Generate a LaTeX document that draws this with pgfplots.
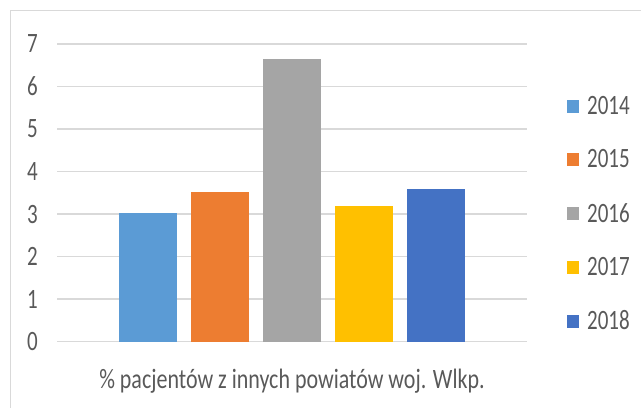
\documentclass[border=0pt]{standalone}
\usepackage{pgfplots}
\pgfplotsset{compat=1.18}
\usepackage{fontspec}
\setmainfont{Carlito}[FakeStretch=0.75]
\newfontfamily\labfont{Carlito}[FakeStretch=0.785]
\definecolor{c14}{HTML}{5B9BD5}
\definecolor{c15}{HTML}{ED7D31}
\definecolor{c16}{HTML}{A5A5A5}
\definecolor{c17}{HTML}{FFC000}
\definecolor{c18}{HTML}{4472C4}
\definecolor{txt}{HTML}{595959}
\definecolor{gridc}{HTML}{D9D9D9}
\begin{document}
\begin{tikzpicture}
\path[use as bounding box] (-57bp,-66.3bp) rectangle (584bp,341.7bp);
\draw[gridc, line width=1.5bp] (-46.5bp,-90bp) -- (-46.5bp,331.2bp) -- (620bp,331.2bp);
\begin{axis}[
  at={(0,0)}, anchor=south west,
  scale only axis, width=470bp, height=297.7bp,
  xmin=-1, xmax=1, ymin=0, ymax=7,
  ytick={0,1,2,3,4,5,6,7},
  xtick={0}, xticklabels={\labfont\% pacjentów z innych powiatów woj. Wlkp.},
  axis line style={draw=none},
  major tick length=0pt,
  ymajorgrids, grid style={gridc, line width=1.5bp},
  ybar=14bp, bar width=58bp,
  font=\fontsize{28bp}{32bp}\selectfont,
  tick label style={text=txt, font=\fontsize{28bp}{32bp}\selectfont},
  /pgf/number format/assume math mode=true,
  yticklabel style={anchor=east, inner sep=0pt, xshift=-19bp},
  xticklabel style={anchor=north, inner sep=0pt, yshift=-27bp},
  legend style={draw=none, fill=none, at={(rel axis cs:1.0851,0.8253)}, anchor=north west,
    inner sep=0pt, text=txt, font=\fontsize{28bp}{32bp}\selectfont,
    nodes={inner sep=0pt}, row sep=33.8bp,
    /tikz/every odd column/.append style={column sep=8bp}},
  legend cell align=left,
  legend image code/.code={\fill[#1] (0bp,-6.5bp) rectangle (12bp,6.5bp);},
]
\addplot[fill=c14, draw=none] coordinates {(0,3.02)};
\addplot[fill=c15, draw=none] coordinates {(0,3.52)};
\addplot[fill=c16, draw=none] coordinates {(0,6.65)};
\addplot[fill=c17, draw=none] coordinates {(0,3.19)};
\addplot[fill=c18, draw=none] coordinates {(0,3.59)};
\legend{2014,2015,2016,2017,2018}
\end{axis}
\end{tikzpicture}
\end{document}
